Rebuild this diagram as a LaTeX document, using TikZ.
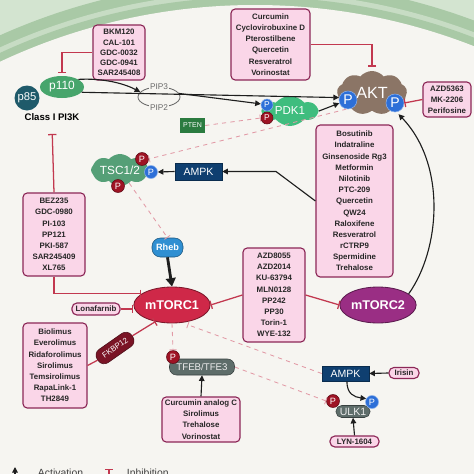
\documentclass[tikz,border=0pt]{standalone}
\usepackage{fontspec}
\setmainfont{Liberation Sans}
\usetikzlibrary{shapes.geometric,shapes.symbols,arrows.meta,positioning}

\definecolor{bgcol}{HTML}{F6F5F1}
\definecolor{memout}{HTML}{D3E4D0}
\definecolor{memband}{HTML}{A9C9A6}
\definecolor{memlight}{HTML}{C7DCC4}
\definecolor{boxfill}{HTML}{FAD6E8}
\definecolor{boxline}{HTML}{8C2757}
\definecolor{inhcol}{HTML}{C2384F}
\definecolor{softcol}{HTML}{E29AA6}
\definecolor{actcol}{HTML}{1E1E1E}
\definecolor{p85col}{HTML}{1F5A6A}
\definecolor{p110col}{HTML}{47A56C}
\definecolor{pdkcol}{HTML}{3FBD7E}
\definecolor{aktcol}{HTML}{8B7566}
\definecolor{ptencol}{HTML}{2B7B40}
\definecolor{ampkcol}{HTML}{0F3F70}
\definecolor{tsccol}{HTML}{559F77}
\definecolor{rhebcol}{HTML}{2F8FD2}
\definecolor{mtoronecol}{HTML}{CF2848}
\definecolor{mtortwocol}{HTML}{9A2E84}
\definecolor{fkbpcol}{HTML}{7A1425}
\definecolor{tfebcol}{HTML}{5E6D6A}
\definecolor{pbluecol}{HTML}{2D6FD8}
\definecolor{predcol}{HTML}{9E1324}
\definecolor{pipcol}{HTML}{6A6A6A}

\newdimen\pxu
\pxu=0.025cm

\tikzset{
  drug/.style={draw=boxline, fill=boxfill, line width=0.8pt, rounded corners=3pt,
    align=center, inner sep=0pt, text=black!85, font=\fontsize{5.6}{7.96}\selectfont\bfseries},
  drugpill/.style={drug, rounded corners=3.5pt},
  protein/.style={inner sep=0pt, text=white, font=\fontsize{7.5}{8}\selectfont},
  blob/.style={protein, cloud, cloud puffs=8, cloud puff arc=100, cloud ignores aspect},
  pblue/.style={circle, fill=pbluecol, draw=pbluecol!55!white, line width=0.4pt, inner sep=0pt,
    minimum size=13\pxu, text=white, font=\fontsize{6.5}{6}\selectfont},
  pred/.style={pblue, fill=predcol, draw=predcol!60!black},
  act/.style={draw=actcol, line width=0.8pt, -{Triangle[length=4pt,width=4pt]}},
  inh/.style={draw=inhcol, line width=0.9pt, -{Bar[width=6pt,line width=0.9pt]}},
  soft/.style={draw=softcol, line width=0.6pt, dashed, -{Bar[width=5pt,line width=0.6pt]}},
}

\begin{document}
\begin{tikzpicture}[x=0.025cm, y=-0.025cm]
\useasboundingbox (0,0) rectangle (474,474);
% cell membrane
\begin{scope}
\clip (0,0) rectangle (474,474);
\fill[memout] (0,0) rectangle (474,474);
\fill[memband] (255,605) circle[radius=624];
\fill[memlight] (255,605) circle[radius=613];
\fill[memband] (255,605) circle[radius=608];
\fill[bgcol] (255,605) circle[radius=600];
\end{scope}

% PI3K
\node[protein, ellipse, fill=p110col, minimum width=44\pxu, minimum height=22\pxu, font=\fontsize{8.5}{8}\selectfont] (p110) at (62,87) {p110};
\node[protein, circle, fill=p85col, minimum size=25\pxu, font=\fontsize{8}{8}\selectfont] (p85) at (27,98) {p85};
\node[font=\fontsize{6.8}{7}\selectfont\bfseries] (pi3k) at (52,117) {Class I PI3K};
\node[ellipse, draw=pipcol, line width=0.6pt, minimum width=42\pxu, minimum height=20\pxu, inner sep=0pt] (pip) at (159,97) {};
\node[fill=bgcol, inner sep=0.6pt, text=pipcol, font=\fontsize{5.9}{6}\selectfont] (pip3) at (pip.north) {PIP3};
\node[fill=bgcol, inner sep=0.6pt, text=pipcol, font=\fontsize{5.9}{6}\selectfont] (pip2) at (pip.south) {PIP2};

% PDK1 and AKT
\node[blob, fill=pdkcol, cloud puffs=6, minimum width=54\pxu, minimum height=30\pxu, font=\fontsize{8.2}{8}\selectfont] (pdk) at (290,111) {PDK1};
\node[pblue, minimum size=12\pxu, font=\fontsize{6}{6}\selectfont] (pdkPb) at (267,105) {P};
\node[pred, minimum size=12\pxu, font=\fontsize{6}{6}\selectfont] (pdkPr) at (267,118) {P};
\node[blob, fill=aktcol, cloud puffs=9, minimum width=70\pxu, minimum height=44\pxu, font=\fontsize{11.5}{12}\selectfont] (akt) at (372,93) {AKT};
\node[pblue, minimum size=18\pxu, font=\fontsize{10}{10}\selectfont] (aktPl) at (348,100) {P};
\node[pblue, minimum size=18\pxu, font=\fontsize{10}{10}\selectfont] (aktPr) at (395,103) {P};
\node[protein, fill=ptencol, minimum width=25\pxu, minimum height=15\pxu, font=\fontsize{5}{5}\selectfont] (pten) at (192.5,125.5) {PTEN};

% TSC and Rheb
\node[blob, fill=tsccol, minimum width=58\pxu, minimum height=32\pxu, font=\fontsize{8.4}{8}\selectfont] (tsc) at (120,170) {TSC1/2};
\node[pred] (tscPt) at (142,159) {P};
\node[pblue] (tscPb) at (151,172) {P};
\node[pred] (tscPd) at (118,186) {P};
\node[protein, fill=ampkcol, draw=ampkcol!70!black, minimum width=47\pxu, minimum height=17\pxu] (ampkA) at (198.5,171.5) {AMPK};
\node[protein, fill=rhebcol, draw=rhebcol!60!black, rounded corners=6pt, minimum width=31\pxu, minimum height=19\pxu, font=\fontsize{6.5}{6}\selectfont\bfseries] (rheb) at (167.5,247.5) {Rheb};

% mTOR complexes
\node[protein, ellipse, fill=mtoronecol, draw=mtoronecol!60!black, line width=0.6pt, minimum width=60\pxu, minimum height=36\pxu, font=\fontsize{9}{9}\selectfont\bfseries] (mtorc1) at (172,305) {mTORC1};
\node[protein, ellipse, fill=mtortwocol, draw=mtortwocol!60!black, line width=0.6pt, minimum width=60\pxu, minimum height=36\pxu, font=\fontsize{9}{9}\selectfont\bfseries] (mtorc2) at (378,305) {mTORC2};
\node[protein, fill=fkbpcol, draw=fkbpcol!60!black, rounded corners=5pt, rotate=35, minimum width=42\pxu, minimum height=16\pxu, font=\fontsize{5.6}{6}\selectfont] (fkbp) at (115,348) {FKBP12};

% TFEB, AMPK, ULK1
\node[protein, fill=tfebcol, draw=tfebcol!60!black, rounded corners=5pt, minimum width=65\pxu, minimum height=16\pxu, text=gray!15, font=\fontsize{6.9}{7}\selectfont] (tfeb) at (202,367) {TFEB/TFE3};
\node[pred] (tfebP) at (173,357) {P};
\node[protein, fill=ampkcol, draw=ampkcol!70!black, minimum width=47\pxu, minimum height=15\pxu] (ampkB) at (345.5,373.5) {AMPK};
\node[protein, fill=tfebcol, draw=tfebcol!60!black, rounded corners=4pt, minimum width=34\pxu, minimum height=12\pxu, text=gray!15, font=\fontsize{7.5}{7}\selectfont] (ulk) at (353,411.5) {ULK1};
\node[pred] (ulkPr) at (333,401) {P};
\node[pblue] (ulkPb) at (372,402) {P};

% drug boxes
\node[drug, minimum width=52\pxu, minimum height=55\pxu, font=\fontsize{5.6}{7.25}\selectfont\bfseries] (bkm) at (119,52.5) {BKM120\\CAL-101\\GDC-0032\\GDC-0941\\SAR245408};
\node[drug, minimum width=79\pxu, minimum height=71\pxu] (curc) at (270.5,44.5) {Curcumin\\Cyclovirobuxine D\\Pterostilbene\\Quercetin\\Resveratrol\\Vorinostat};
\node[drug, minimum width=48\pxu, minimum height=35\pxu] (azdak) at (447,99.5) {AZD5363\\MK-2206\\Perifosine};
\node[drug, minimum width=77\pxu, minimum height=152\pxu] (bosu) at (354.5,201) {Bosutinib\\Indatraline\\Ginsenoside Rg3\\Metformin\\Nilotinib\\PTC-209\\Quercetin\\QW24\\Raloxifene\\Resveratrol\\rCTRP9\\Spermidine\\Trehalose};
\node[drug, minimum width=62\pxu, minimum height=83\pxu] (bez) at (54,234.5) {BEZ235\\GDC-0980\\PI-103\\PP121\\PKI-587\\SAR245409\\XL765};
\node[drug, minimum width=62\pxu, minimum height=94\pxu] (azdmt) at (274,295) {AZD8055\\AZD2014\\KU-63794\\MLN0128\\PP242\\PP30\\Torin-1\\WYE-132};
\node[drug, minimum width=64\pxu, minimum height=85\pxu] (rapa) at (55,365.5) {Biolimus\\Everolimus\\Ridaforolimus\\Sirolimus\\Temsirolimus\\RapaLink-1\\TH2849};
\node[drug, minimum width=78\pxu, minimum height=45\pxu] (curcan) at (201,419.5) {Curcumin analog C\\Sirolimus\\Trehalose\\Vorinostat};
\node[drugpill, minimum width=48\pxu, minimum height=12\pxu] (lona) at (96,309) {Lonafarnib};
\node[drugpill, minimum width=30\pxu, minimum height=11\pxu] (irisin) at (404,373) {Irisin};
\node[drugpill, minimum width=49\pxu, minimum height=11\pxu] (lyn) at (354.5,441.5) {LYN-1604};
\coordinate (bosubend) at (276,171.5);

% activation
\draw[act] (p110.25) .. controls (105,78) and (125,84) .. (pip.165);
\draw[act] (pip.10) -- (pdkPb.170);
\draw[act] (p110.-15) -- (aktPl.165);
\draw[act] (pdk.east) -- (aktPl.200);
\draw[act] (bosu.west) -- (bosubend) -- (ampkA.east);
\draw[act] (ampkA.west) -- (tscPb.east);
\draw[act, line width=2pt, -{Triangle[length=6pt,width=7pt]}] (rheb.south) -- (mtorc1.north);
\draw[act, shorten >=2pt] (mtorc2.20) .. controls (440,250) and (447,165) .. (aktPr.-80);
\draw[act] (irisin.west) -- (ampkB.east);
\draw[act] (ampkB.-80) .. controls (347,394) and (354,397) .. (ulkPb.150);
\draw[act] (lyn.north) -- (ulk.south);
\draw[act] (curcan.north) -- (tfeb.south);

% inhibition
\draw[inh, shorten >=2pt] (bkm.west) -| (p110.north);
\draw[inh, shorten >=3pt] (curc.east) -| (akt.north);
\draw[inh] (azdak.west) -- (aktPr.east);
\draw[inh, shorten >=6pt] (bez.north) -- (pi3k.south);
\draw[inh] (bez.south) |- (mtorc1.160);
\draw[inh] (lona.east) -- (lona.east -| mtorc1.west);
\draw[draw=inhcol, line width=0.9pt] (rapa.east) -- (fkbp.west);
\draw[inh] (fkbp.east) -- (mtorc1.225);
\draw[inh] (azdmt.west) -- (mtorc1.east);
\draw[inh] (azdmt.east) -- (mtorc2.west);
\draw[soft] (aktPl.-100) -- (tscPt.east);
\draw[soft] (pten.east) -- (pdkPr.west);
\draw[soft] (tsc.-55) -- (rheb.north);
\draw[soft] (mtorc1.south) -- (tfebP.north);
\draw[soft, shorten >=4pt] (ampkB.west) -- (mtorc1.-60);
\draw[soft] (tfeb.east) -- (ulkPr.west);

% legend
\coordinate (actfoot) at (15,490);
\coordinate (acttip) at (15,467);
\coordinate (inhfoot) at (109,490);
\coordinate (inhtip) at (109,469);
\draw[act] (actfoot) -- (acttip);
\draw[inh] (inhfoot) -- (inhtip);
\node[anchor=base west, text=black!75, font=\fontsize{7.4}{8}\selectfont] (actlab) at (33,476) {Activation};
\node[anchor=base west, text=black!75, font=\fontsize{7.4}{8}\selectfont] (inhlab) at (122,476) {Inhibition};
\end{tikzpicture}
\end{document}
